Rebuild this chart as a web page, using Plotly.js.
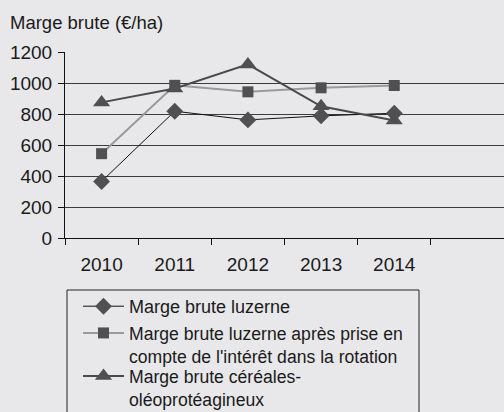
<!DOCTYPE html>
<html>
<head>
<meta charset="utf-8">
<script src="https://cdn.plot.ly/plotly-3.0.1.min.js"></script>
<style>html,body{margin:0;padding:0;background:#e8e8ea;}</style>
</head>
<body>
<div id="chart" style="width:504px;height:412px;"></div>
<script>
var years = ['2010', '2011', '2012', '2013', '2014'];
var luzerne = [365, 818, 762, 788, 805];
var luzerneRotation = [544, 985, 943, 969, 984];
var cereales = [875, 965, 1120, 850, 758];
var names = [
  'Marge brute luzerne',
  'Marge brute luzerne après prise en<br>compte de l\'intérêt dans la rotation',
  'Marge brute céréales-<br>oléoprotéagineux'
];
var yTicks = [0, 200, 400, 600, 800, 1000, 1200];

var traces = [
  {x: years, y: luzerne, name: names[0], type: 'scatter', mode: 'lines+markers',
   legend: 'legend',
   line: {color: '#111111', width: 1},
   marker: {symbol: 'diamond', size: 13, color: '#505050'}},
  {x: years, y: luzerneRotation, name: names[1], type: 'scatter', mode: 'lines+markers',
   legend: 'legend2',
   line: {color: '#9a9a9a', width: 2},
   marker: {symbol: 'square', size: 11, color: '#505050'}},
  {x: years, y: cereales, name: names[2], type: 'scatter', mode: 'lines+markers',
   legend: 'legend3',
   line: {color: '#4a4a4a', width: 2},
   marker: {symbol: 'triangle-up', size: 15, color: '#505050'}}
];

function legendAt(topPx, size) {
  return {x: 13 / 439, xanchor: 'left', y: (238 - topPx) / 186, yanchor: 'top',
          bgcolor: 'rgba(0,0,0,0)', borderwidth: 0, valign: 'top',
          font: {size: size, color: '#1a1a1a'}, itemwidth: 41, tracegroupgap: 0};
}

var layout = {
  width: 504, height: 412,
  paper_bgcolor: '#e8e8ea', plot_bgcolor: '#e8e8ea',
  font: {family: 'Liberation Sans, Arial, sans-serif', size: 19, color: '#1a1a1a'},
  margin: {l: 65, r: 0, t: 52, b: 174, autoexpand: false},
  title: {text: 'Marge brute (€/ha)', x: 10 / 504, xref: 'container', xanchor: 'left',
          y: 1 - 23 / 412, yref: 'container', yanchor: 'middle',
          font: {size: 18.5, color: '#1a1a1a'}},
  xaxis: {type: 'category', range: [-0.5, 5.5], tickson: 'boundaries',
          ticks: 'outside', ticklen: 6, tickcolor: '#111', tickwidth: 1,
          showline: true, linecolor: '#111', linewidth: 1,
          showgrid: false, zeroline: false, ticklabelstandoff: 9,
          tickfont: {size: 19}, fixedrange: true},
  yaxis: {range: [0, 1200], tickvals: yTicks, ticks: 'outside', ticklen: 6,
          tickcolor: '#111', showline: true, linecolor: '#111', linewidth: 1,
          showgrid: true, gridcolor: '#3c3c3c', gridwidth: 1, zeroline: false,
          ticklabelstandoff: 2, tickfont: {size: 19}, fixedrange: true},
  showlegend: true,
  legend: legendAt(288, 18),
  legend2: legendAt(315, 17.6),
  legend3: legendAt(358, 17.6),
  shapes: [
    {type: 'rect', xref: 'paper', yref: 'paper',
     x0: 2 / 439, x1: 354 / 439, y0: -52 / 186, y1: -200 / 186,
     line: {color: '#222', width: 1}, fillcolor: 'rgba(0,0,0,0)', layer: 'below'}
  ]
};

Plotly.newPlot('chart', traces, layout, {displayModeBar: false, staticPlot: true});
</script>
</body>
</html>
